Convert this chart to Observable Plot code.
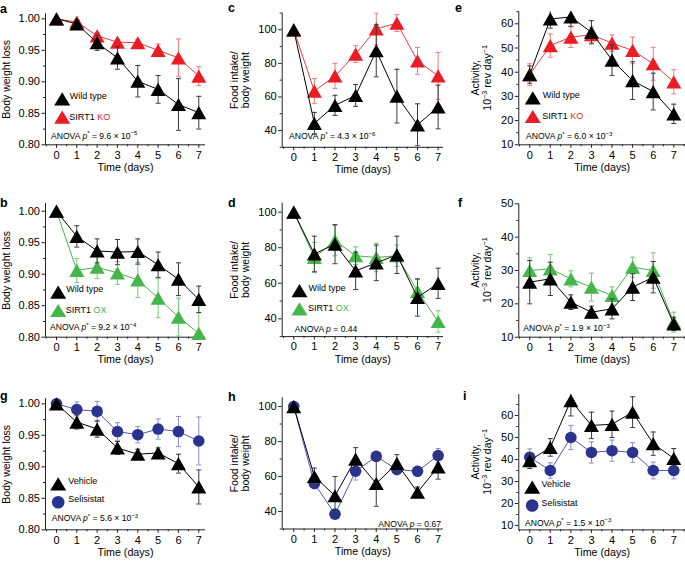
<!DOCTYPE html>
<html><head><meta charset="utf-8">
<script src="https://cdn.jsdelivr.net/npm/d3@7"></script>
<script src="https://cdn.jsdelivr.net/npm/@observablehq/plot@0.6"></script>
<style>
html,body{margin:0;padding:0;background:#fff;}
#root{position:relative;width:685px;height:562px;overflow:hidden;background:#fff;}
.panel{position:absolute;}
.panel svg{display:block;overflow:visible;}
</style></head><body><div id="root"></div>
<script>
const FONT = '"Liberation Sans", Arial, Helvetica, sans-serif';

// ---------- data ----------
const days = [0, 1, 2, 3, 4, 5, 6, 7];
const halfDays = [-0.5, 0.5, 1.5, 2.5, 3.5, 4.5, 5.5, 6.5, 7.5];

// a: body weight loss, wild type vs SIRT1 KO
const aWT   = [1.000, 0.992, 0.962, 0.938, 0.901, 0.888, 0.864, 0.851];
const aWTe  = [0, 0.005, 0.012, 0.018, 0.025, 0.022, 0.041, 0.026];
const aKO   = [1.000, 0.995, 0.973, 0.963, 0.962, 0.950, 0.938, 0.909];
const aKOe  = [0, 0.004, 0.005, 0.004, 0.005, 0.010, 0.030, 0.015];
// b: body weight loss, wild type vs SIRT1 OX
const bWT   = [1.000, 0.960, 0.937, 0.935, 0.936, 0.915, 0.892, 0.860];
const bWTe  = [0, 0.017, 0.019, 0.020, 0.020, 0.020, 0.026, 0.021];
const bOX   = [1.000, 0.906, 0.911, 0.902, 0.891, 0.862, 0.832, 0.806];
const bOXe  = [0, 0.019, 0.018, 0.018, 0.028, 0.031, 0.030, 0.033];
// c: food intake / body weight, wild type vs SIRT1 KO
const cWT   = [100, 44.3, 55.0, 60.9, 87.5, 60.5, 43.4, 54.0];
const cWTe  = [0, 6.5, 6.0, 6.5, 15.5, 16.0, 12.5, 13.0];
const cKO   = [100, 63.5, 72.5, 85.5, 100.5, 104.0, 81.5, 72.5];
const cKOe  = [0, 7.5, 7.5, 5.0, 9.5, 5.0, 8.0, 14.0];
// d: food intake / body weight, wild type vs SIRT1 OX
const dWT   = [100, 76.5, 82.0, 67.0, 71.5, 76.0, 52.0, 60.0];
const dWTe  = [0, 10.0, 11.0, 10.5, 10.0, 10.5, 10.5, 8.5];
const dOX   = [100, 74.5, 84.0, 75.5, 74.5, 75.5, 55.5, 38.5];
const dOXe  = [0, 8.5, 8.5, 5.0, 8.0, 6.0, 6.5, 6.0];
// e: activity, wild type vs SIRT1 KO
const eWT   = [39.0, 62.0, 62.8, 56.5, 45.0, 36.5, 32.0, 22.8];
const eWTe  = [3.6, 3.8, 3.8, 4.8, 6.3, 7.8, 7.6, 4.0];
const eKO   = [39.0, 51.0, 54.5, 55.5, 52.0, 49.0, 43.5, 36.0];
const eKOe  = [4.5, 4.8, 4.3, 3.2, 3.4, 5.5, 6.8, 5.0];
// f: activity, wild type vs SIRT1 OX
const fWT   = [26.5, 27.5, 20.5, 17.5, 18.5, 25.0, 28.0, 14.0];
const fWTe  = [6.5, 5.0, 2.2, 1.8, 3.0, 4.0, 4.7, 2.0];
const fOX   = [30.0, 30.5, 27.5, 25.0, 22.5, 31.0, 30.0, 14.5];
const fOXe  = [3.8, 4.3, 2.4, 4.2, 2.6, 3.0, 5.3, 3.0];
// g: body weight loss, vehicle vs selisistat
const gVeh  = [1.000, 0.971, 0.960, 0.930, 0.920, 0.922, 0.905, 0.868];
const gVehe = [0, 0.011, 0.013, 0.010, 0.008, 0.008, 0.015, 0.027];
const gSel  = [1.000, 0.991, 0.988, 0.956, 0.951, 0.960, 0.956, 0.941];
const gSele = [0, 0.012, 0.016, 0.014, 0.013, 0.016, 0.024, 0.038];
// h: food intake / body weight, vehicle vs selisistat
const hVeh  = [100, 60.0, 49.0, 70.0, 56.0, 67.5, 51.0, 65.5];
const hVehe = [0, 4.8, 11.0, 6.5, 13.0, 5.0, 3.0, 7.0];
const hSel  = [100, 56.0, 38.5, 63.0, 71.5, 64.0, 63.0, 72.0];
const hSele = [0, 3.0, 2.5, 5.0, 2.0, 3.0, 2.8, 4.0];
// i: activity, vehicle vs selisistat
const iVeh  = [39.5, 45.5, 66.8, 55.5, 56.0, 61.5, 47.2, 40.5];
const iVehe = [3.6, 4.0, 7.0, 6.0, 6.0, 7.0, 5.3, 4.5];
const iSel  = [41.0, 35.0, 50.0, 43.2, 44.0, 43.2, 35.0, 35.0];
const iSele = [3.8, 3.5, 5.5, 4.8, 4.8, 4.5, 3.8, 3.8];

// tick labels
const bwTicks = [0.80, 0.85, 0.90, 0.95, 1.00];
const bwMinor = [0.825, 0.875, 0.925, 0.975];
const fiTicks = [40, 60, 80, 100];
const fiMinor = [30, 50, 70, 90, 110];
const acTicksE = [10, 20, 30, 40, 50, 60];
const acTicksF = [10, 20, 30, 40, 50];
const acMinor = [15, 25, 35, 45, 55, 65];

// ---------- styles ----------
const BLACK = "#000000", BLACKBAR = "#3a3a3a";
const RED = "#ec1c24", REDLINE = "#ef3b41", REDBAR = "#f27a7e";
const GREEN = "#45b649", GREENLINE = "#45b649", GREENBAR = "#79c87b";
const BLUE = "#2b3390", BLUELINE = "#5358b0", BLUEBAR = "#8a8ed2";

const triangle = {draw(ctx) { const w = 7.5, h = 6.6; ctx.moveTo(0, -h); ctx.lineTo(w, h); ctx.lineTo(-w, h); ctx.closePath(); }};
const bigTriangle = {draw(ctx) { const w = 8, h = 6.6; ctx.moveTo(0, -h); ctx.lineTo(w, h); ctx.lineTo(-w, h); ctx.closePath(); }};
const cap = {draw(ctx) { ctx.moveTo(-2.5, 0); ctx.lineTo(2.5, 0); }};

function rows(vals, errs) { return days.map((d, i) => ({day: d, v: vals[i], e: errs[i]})); }

function rich(svg, x, y, lines, {size = 9, anchor = "start", rotate = 0, lh = 1.15, weight = null} = {}) {
  const t = d3.select(svg).append("text")
    .attr("transform", `translate(${x},${y})${rotate ? ` rotate(${rotate})` : ""}`)
    .attr("text-anchor", anchor).attr("font-family", FONT).attr("font-size", size).attr("fill", "#000");
  if (weight) t.attr("font-weight", weight);
  const n = lines.length;
  lines.forEach((parts, li) => {
    const ln = t.append("tspan").attr("x", 0).attr("y", ((li - (n - 1) / 2) * lh + 0.35) * size);
    let shift = 0;
    for (const [str, kind, color] of parts) {
      const sp = ln.append("tspan").text(str);
      const target = kind === "sup" ? -0.4 * size : 0;
      if (target !== shift) { sp.attr("dy", target - shift); shift = target; }
      if (kind === "sup") sp.attr("font-size", size * 0.7);
      if (kind === "i") sp.attr("font-style", "italic");
      if (color) sp.attr("fill", color);
    }
  });
}

function anovaParts(p, star, mant, exp) {
  const parts = [["ANOVA "], ["p", "i"]];
  if (star) {
    parts.push(["*", "sup"]);
    parts.push([` = ${mant} × 10`]);
    parts.push([exp, "sup"]);
  } else {
    parts.push([` = ${mant}`]);
  }
  return [parts];
}

function buildPanel(c) {
  const [x0, x1] = c.xDomain;
  const marks = [
    Plot.ruleX([x0], {stroke: "#222", strokeWidth: 1}),
    Plot.ruleY([c.yDomain[0]], {stroke: "#222", strokeWidth: 1}),
    Plot.axisY(c.yMinor.filter(v => v >= c.yDomain[0] && v <= c.yDomain[1]), {tickSize: 2, fill: "none", label: null, stroke: "#222"}),
    Plot.axisY(c.yTicks, {tickSize: 3.5, tickPadding: 2, tickFormat: c.yFormat, fontSize: 11, label: null, stroke: "#222"}),
    Plot.axisX(halfDays.filter(v => v >= x0 && v <= x1), {tickSize: 2, fill: "none", label: null, stroke: "#222"}),
    Plot.axisX(days, {tickSize: 3.5, tickPadding: 2.5, fontSize: 11, label: null, stroke: "#222"})
  ];
  for (const s of c.series) {
    const r = rows(s.v, s.e);
    const withErr = r.filter(d => d.e > 0);
    marks.push(Plot.ruleX(withErr, {x: "day", y1: d => d.v - d.e, y2: d => d.v + d.e, stroke: s.bar, strokeWidth: 1, clip: true}));
    marks.push(Plot.dot(withErr, {x: "day", y: d => d.v + d.e, symbol: cap, stroke: s.bar, fill: "none", strokeWidth: 1, clip: true}));
    marks.push(Plot.dot(withErr, {x: "day", y: d => d.v - d.e, symbol: cap, stroke: s.bar, fill: "none", strokeWidth: 1, clip: true}));
    marks.push(Plot.line(r, {x: "day", y: "v", stroke: s.line, strokeWidth: 1}));
    marks.push(Plot.dot(r, {x: "day", y: "v", symbol: s.symbol, r: s.r || 5.8, fill: s.color, stroke: "none"}));
  }
  if (c.legend) for (const L of c.legend) {
    marks.push(Plot.dot([L], {frameAnchor: "bottom-left", dx: L.sx, dy: L.sy, symbol: L.symbol, r: L.r || 6.3, fill: L.color, stroke: "none"}));
    if (!L.suffix) marks.push(Plot.text([L], {frameAnchor: "bottom-left", dx: L.tx, dy: L.sy, text: d => d.name, textAnchor: "start", fontSize: 9}));
  }
  marks.push(Plot.text(["Time (days)"], {frameAnchor: "bottom", dy: 26, text: d => d, fontSize: 10.7}));
  if (c.yTitle) marks.push(Plot.text([c.yTitle], {frameAnchor: "left", dx: c.yTitleDx, rotate: -90, text: d => d, fontSize: 10.5, lineHeight: 1.02, textAnchor: "middle"}));

  const svg = Plot.plot({
    width: c.width, height: c.height,
    marginLeft: c.ml, marginRight: c.mr, marginTop: c.mt, marginBottom: c.mb,
    x: {domain: c.xDomain, label: null},
    y: {domain: c.yDomain, label: null},
    style: {fontFamily: FONT, fontSize: "11px", background: "transparent", overflow: "visible", color: "#000"},
    marks
  });
  const fb = c.height - c.mb;
  // legend labels with coloured suffix
  if (c.legend) for (const L of c.legend) {
    if (L.suffix) rich(svg, c.ml + L.tx, fb + L.sy, [[[L.name + " "], [L.suffix, null, L.color]]], {size: 9});
  }
  // ANOVA annotation
  if (c.anova) {
    const A = c.anova;
    if (A.anchor === "end") rich(svg, c.width - c.mr + A.dx, fb + A.dy, A.parts, {size: 8.6, anchor: "end"});
    else rich(svg, c.ml + A.dx, fb + A.dy, A.parts, {size: 8.6});
  }
  // activity title with superscripts
  if (c.activity) {
    rich(svg, c.ml + c.yTitleDx, (c.mt + fb) / 2, [[["Activity,"]], [["10"], ["−3", "sup"], [" rev day"], ["−1", "sup"]]], {size: 10.5, anchor: "middle", rotate: -90, lh: 1.17});
  }
  // panel letter
  rich(svg, c.letterX, c.letterY, [[[c.letter]]], {size: 12.5, weight: "bold"});
  d3.select(svg).select("text:last-of-type");
  const div = document.createElement("div");
  div.className = "panel";
  div.style.left = c.left + "px";
  div.style.top = c.top + "px";
  div.appendChild(svg);
  document.getElementById("root").appendChild(div);
}

const fmt2 = d3.format(".2f");
const col1 = {left: 0, width: 228, ml: 45, mr: 23, xDomain: [-0.54, 7.33], yTicks: bwTicks, yMinor: bwMinor, yFormat: fmt2, yTitle: "Body weight loss", yTitleDx: -38.5};
const col2 = {left: 228, width: 228, ml: 53.7, mr: 13, xDomain: [-0.56, 7.26], yTicks: fiTicks, yMinor: fiMinor, yFormat: d => d, yTitle: "Food intake/\nbody weight", yTitleDx: -42.4};
const col3 = {left: 455, width: 230, ml: 63.3, mr: 0, xDomain: [-0.53, 7.57], yMinor: acMinor, yFormat: d => d, yTitle: null, activity: true, yTitleDx: -37.3};

const wt = (v, e) => ({v, e, color: BLACK, line: BLACK, bar: BLACKBAR, symbol: triangle});
const ko = (v, e) => ({v, e, color: RED, line: REDLINE, bar: REDBAR, symbol: triangle});
const ox = (v, e) => ({v, e, color: GREEN, line: GREENLINE, bar: GREENBAR, symbol: triangle});
const sel = (v, e) => ({v, e, color: BLUE, line: BLUELINE, bar: BLUEBAR, symbol: "circle", r: 5.8});

const legKO = (sx, dy1, dy2, tx) => [
  {name: "Wild type", color: BLACK, symbol: bigTriangle, sx, sy: dy1, tx},
  {name: "SIRT1", suffix: "KO", color: RED, symbol: bigTriangle, sx, sy: dy2, tx}
];
const legOX = (sx, dy1, dy2, tx) => [
  {name: "Wild type", color: BLACK, symbol: bigTriangle, sx, sy: dy1, tx},
  {name: "SIRT1", suffix: "OX", color: GREEN, symbol: bigTriangle, sx, sy: dy2, tx}
];
const legSel = (sx, dy1, dy2, tx) => [
  {name: "Vehicle", color: BLACK, symbol: bigTriangle, sx, sy: dy1, tx},
  {name: "Selisistat", color: BLUE, symbol: "circle", r: 6.3, sx, sy: dy2, tx}
];

const panels = [
  {...col1, letter: "a", letterX: 0, letterY: 9, top: 0, height: 185, mt: 13.3, mb: 40.7, yDomain: [0.80, 1.008],
   series: [ko(aKO, aKOe), wt(aWT, aWTe)], legend: legKO(16.7, -46, -27.6, 24.3),
   anova: {dx: 6, dy: -8.6, parts: anovaParts("p", true, "9.6", "−5")}},
  {...col1, letter: "b", letterX: 0, letterY: 18, top: 185, height: 185, mt: 18.1, mb: 33.3, yDomain: [0.80, 1.012],
   series: [ox(bOX, bOXe), wt(bWT, bWTe)], legend: legOX(12.7, -45, -26.7, 20.7),
   anova: {dx: 5, dy: -9.4, parts: anovaParts("p", true, "9.2", "−4")}},
  {...col1, letter: "g", letterX: 0, letterY: 26, top: 370, height: 192, mt: 28.3, mb: 32.7, yDomain: [0.80, 1.008],
   series: [sel(gSel, gSele), wt(gVeh, gVehe)], legend: legSel(12.7, -46, -27.6, 22.7),
   anova: {dx: 6.7, dy: -11, parts: anovaParts("p", true, "5.6", "−3")}},
  {...col2, letter: "c", letterX: 0, letterY: 8, top: 0, height: 185, mt: 12.5, mb: 38.2, yDomain: [30, 110],
   series: [ko(cKO, cKOe), wt(cWT, cWTe)],
   anova: {dx: 7.3, dy: -10.8, parts: anovaParts("p", true, "4.3", "−6")}},
  {...col2, letter: "d", letterX: 0, letterY: 18, top: 185, height: 185, mt: 17.8, mb: 33.9, yDomain: [30, 105],
   series: [ox(dOX, dOXe), wt(dWT, dWTe)], legend: legOX(17.3, -46, -27.8, 26.3),
   anova: {dx: 13, dy: -7, parts: anovaParts("p", false, "0.44")}},
  {...col2, letter: "h", letterX: 0, letterY: 27, top: 370, height: 192, mt: 27.3, mb: 33.5, yDomain: [30, 105],
   series: [sel(hSel, hSele), wt(hVeh, hVehe)],
   anova: {anchor: "end", dx: -2, dy: -5, parts: anovaParts("p", false, "0.67")}},
  {...col3, letter: "e", letterX: 0, letterY: 8, top: 0, height: 185, mt: 11.2, mb: 40.7, yDomain: [10, 65], yTicks: acTicksE,
   series: [ko(eKO, eKOe), wt(eWT, eWTe)], legend: legKO(14, -47, -28.3, 24),
   anova: {dx: 7.7, dy: -8.3, parts: anovaParts("p", true, "6.0", "−3")}},
  {...col3, letter: "f", letterX: 3, letterY: 18, top: 185, height: 185, mt: 18.3, mb: 33.3, yDomain: [10, 50], yTicks: acTicksF,
   series: [ox(fOX, fOXe), wt(fWT, fWTe)],
   anova: {dx: 5, dy: -8.4, parts: anovaParts("p", true, "1.9", "−3")}},
  {...col3, letter: "i", letterX: 8, letterY: 26, top: 370, height: 192, mt: 24.1, mb: 32.6, yDomain: [8, 69.5], yTicks: acTicksE,
   series: [sel(iSel, iSele), wt(iVeh, iVehe)], legend: legSel(13.4, -42.7, -24.4, 22.7),
   anova: {dx: 6.7, dy: -6.7, parts: anovaParts("p", true, "1.5", "−3")}}
];
panels.forEach(buildPanel);
</script></body></html>
